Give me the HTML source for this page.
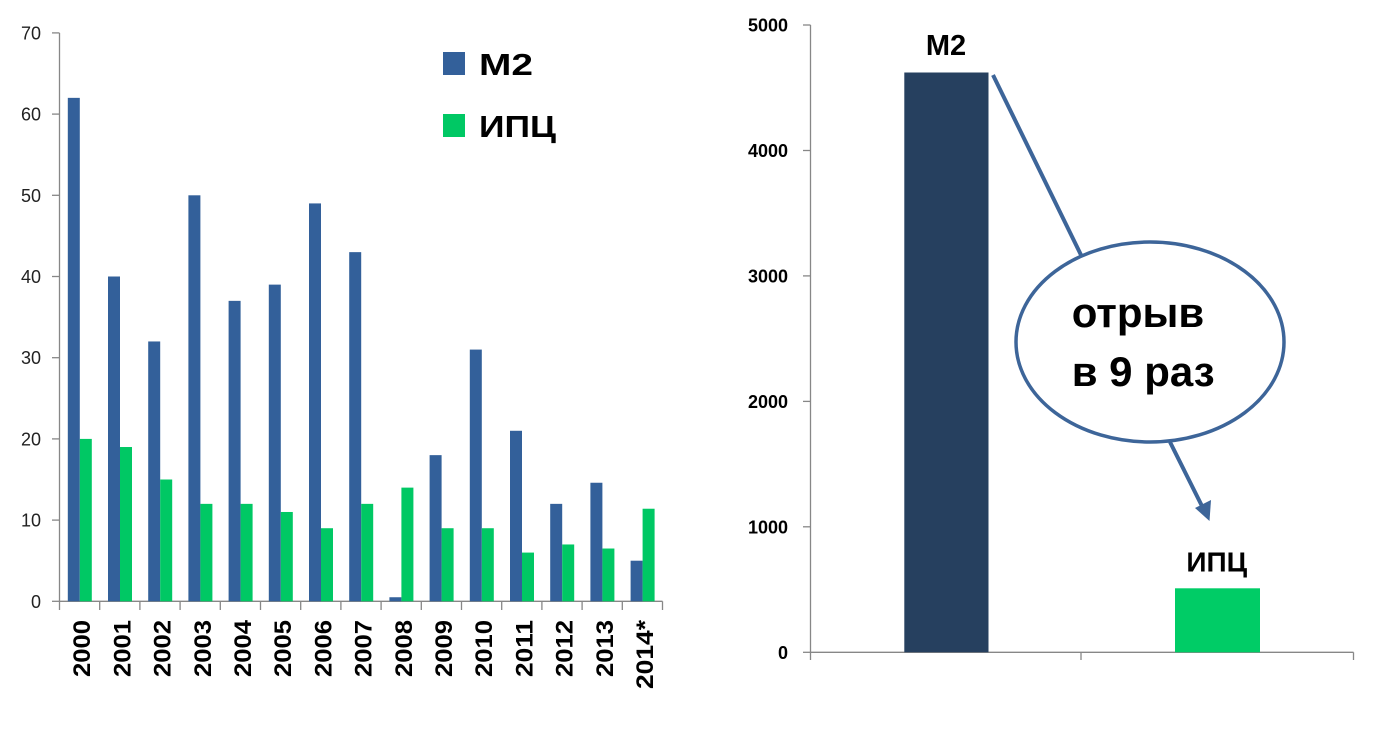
<!DOCTYPE html>
<html><head><meta charset="utf-8"><style>
html,body{margin:0;padding:0;background:#fff;}
svg{display:block;}
text{font-family:"Liberation Sans","Noto Sans CJK SC",sans-serif;}
</style></head><body>
<svg width="1397" height="736" viewBox="0 0 1397 736" xmlns="http://www.w3.org/2000/svg">
<!-- LEFT CHART -->
<g stroke="#878787" stroke-width="1.3" fill="none">
<line x1="59.5" y1="33" x2="59.5" y2="601.3"/>
<line x1="59.5" y1="601.3" x2="662.5" y2="601.3"/>
<line x1="52" y1="32.9" x2="59.5" y2="32.9"/>
<line x1="52" y1="114.1" x2="59.5" y2="114.1"/>
<line x1="52" y1="195.3" x2="59.5" y2="195.3"/>
<line x1="52" y1="276.5" x2="59.5" y2="276.5"/>
<line x1="52" y1="357.7" x2="59.5" y2="357.7"/>
<line x1="52" y1="438.9" x2="59.5" y2="438.9"/>
<line x1="52" y1="520.1" x2="59.5" y2="520.1"/>
<line x1="52" y1="601.3" x2="59.5" y2="601.3"/>
</g>
<g font-size="18" fill="#222" text-anchor="end">
<text x="41" y="39.4">70</text>
<text x="41" y="120.6">60</text>
<text x="41" y="201.8">50</text>
<text x="41" y="283">40</text>
<text x="41" y="364.2">30</text>
<text x="41" y="445.4">20</text>
<text x="41" y="526.6">10</text>
<text x="41" y="607.8">0</text>
</g>
<g id="bars"></g>
<script>
(function(){
var m2=[62,40,32,50,37,39,49,43,0.5,18,31,21,12,14.6,5];
var cpi=[20,19,15,12,12,11,9,12,14,9,9,6,7,6.5,11.4];
var yrs=["2000","2001","2002","2003","2004","2005","2006","2007","2008","2009","2010","2011","2012","2013","2014*"];
var ns="http://www.w3.org/2000/svg";
var g=document.getElementById("bars");
function el(t,a){var e=document.createElementNS(ns,t);for(var k in a)e.setAttribute(k,a[k]);return e;}
var y0=601.3,s=8.12,w=40.2;
for(var i=0;i<15;i++){
 var bx=59.5+i*w+8.3;
 var h1=m2[i]*s,h2=cpi[i]*s;
 g.appendChild(el("rect",{x:bx,y:y0-h1,width:12,height:h1,fill:"#33609A"}));
 g.appendChild(el("rect",{x:bx+12,y:y0-h2,width:12,height:h2,fill:"#00C864"}));
 var tx=59.5+(i+1)*w;
 g.appendChild(el("line",{x1:tx,y1:y0,x2:tx,y2:610,stroke:"#878787","stroke-width":"1.3"}));
 var cx=59.5+(i+0.5)*w+10.6;
 var t=el("text",{transform:"translate("+cx+",620) rotate(-90)","text-anchor":"end","font-size":"24","font-weight":"bold",fill:"#000",textLength:(i==14?69:57),lengthAdjust:"spacingAndGlyphs"});
 t.textContent=yrs[i];g.appendChild(t);
}
g.appendChild(el("line",{x1:59.5,y1:y0,x2:59.5,y2:610,stroke:"#878787","stroke-width":"1.3"}));
})();
</script>
<!-- legend -->
<rect x="443" y="52" width="22" height="23" fill="#33609A"/>
<text x="479" y="75" font-size="31" font-weight="bold" fill="#000" textLength="54" lengthAdjust="spacingAndGlyphs">М2</text>
<rect x="443" y="114" width="22" height="23" fill="#00C864"/>
<text x="479" y="137" font-size="31" font-weight="bold" fill="#000" textLength="77" lengthAdjust="spacingAndGlyphs">ИПЦ</text>

<!-- RIGHT CHART -->
<g stroke="#878787" stroke-width="1.3" fill="none">
<line x1="810.5" y1="25" x2="810.5" y2="660"/>
<line x1="810.5" y1="652.3" x2="1353.5" y2="652.3"/>
<line x1="1081" y1="652.3" x2="1081" y2="660"/>
<line x1="1353.5" y1="652.3" x2="1353.5" y2="660"/>
<line x1="803" y1="25" x2="810.5" y2="25"/>
<line x1="803" y1="150.5" x2="810.5" y2="150.5"/>
<line x1="803" y1="275.9" x2="810.5" y2="275.9"/>
<line x1="803" y1="401.4" x2="810.5" y2="401.4"/>
<line x1="803" y1="526.8" x2="810.5" y2="526.8"/>
<line x1="803" y1="652.3" x2="810.5" y2="652.3"/>
</g>
<g font-size="18" font-weight="bold" fill="#000" text-anchor="end">
<text x="788" y="31.5">5000</text>
<text x="788" y="157">4000</text>
<text x="788" y="282.4">3000</text>
<text x="788" y="407.9">2000</text>
<text x="788" y="533.3">1000</text>
<text x="788" y="658.8">0</text>
</g>
<rect x="904.3" y="72.5" width="84.2" height="579.8" fill="#26405F"/>
<rect x="1175" y="588.3" width="85" height="64" fill="#00CC66"/>
<text x="946" y="55" font-size="29" font-weight="bold" text-anchor="middle" fill="#000">М2</text>
<text x="1216.7" y="571.7" font-size="28" font-weight="bold" text-anchor="middle" fill="#000">ИПЦ</text>

<!-- callout -->
<line x1="993" y1="75" x2="1081" y2="255" stroke="#3D6599" stroke-width="4"/>
<ellipse cx="1150" cy="342" rx="134" ry="100" fill="#fff" stroke="#3D6599" stroke-width="3.5"/>
<text x="1071.7" y="327" font-size="42" font-weight="bold" fill="#000">отрыв</text>
<text x="1071.7" y="386" font-size="42" font-weight="bold" fill="#000">в 9 раз</text>
<line x1="1170" y1="442" x2="1202.7" y2="507.5" stroke="#3D6599" stroke-width="4"/>
<polygon points="1195,508 1211,500 1209.5,521" fill="#3D6599"/>
</svg>
</body></html>
